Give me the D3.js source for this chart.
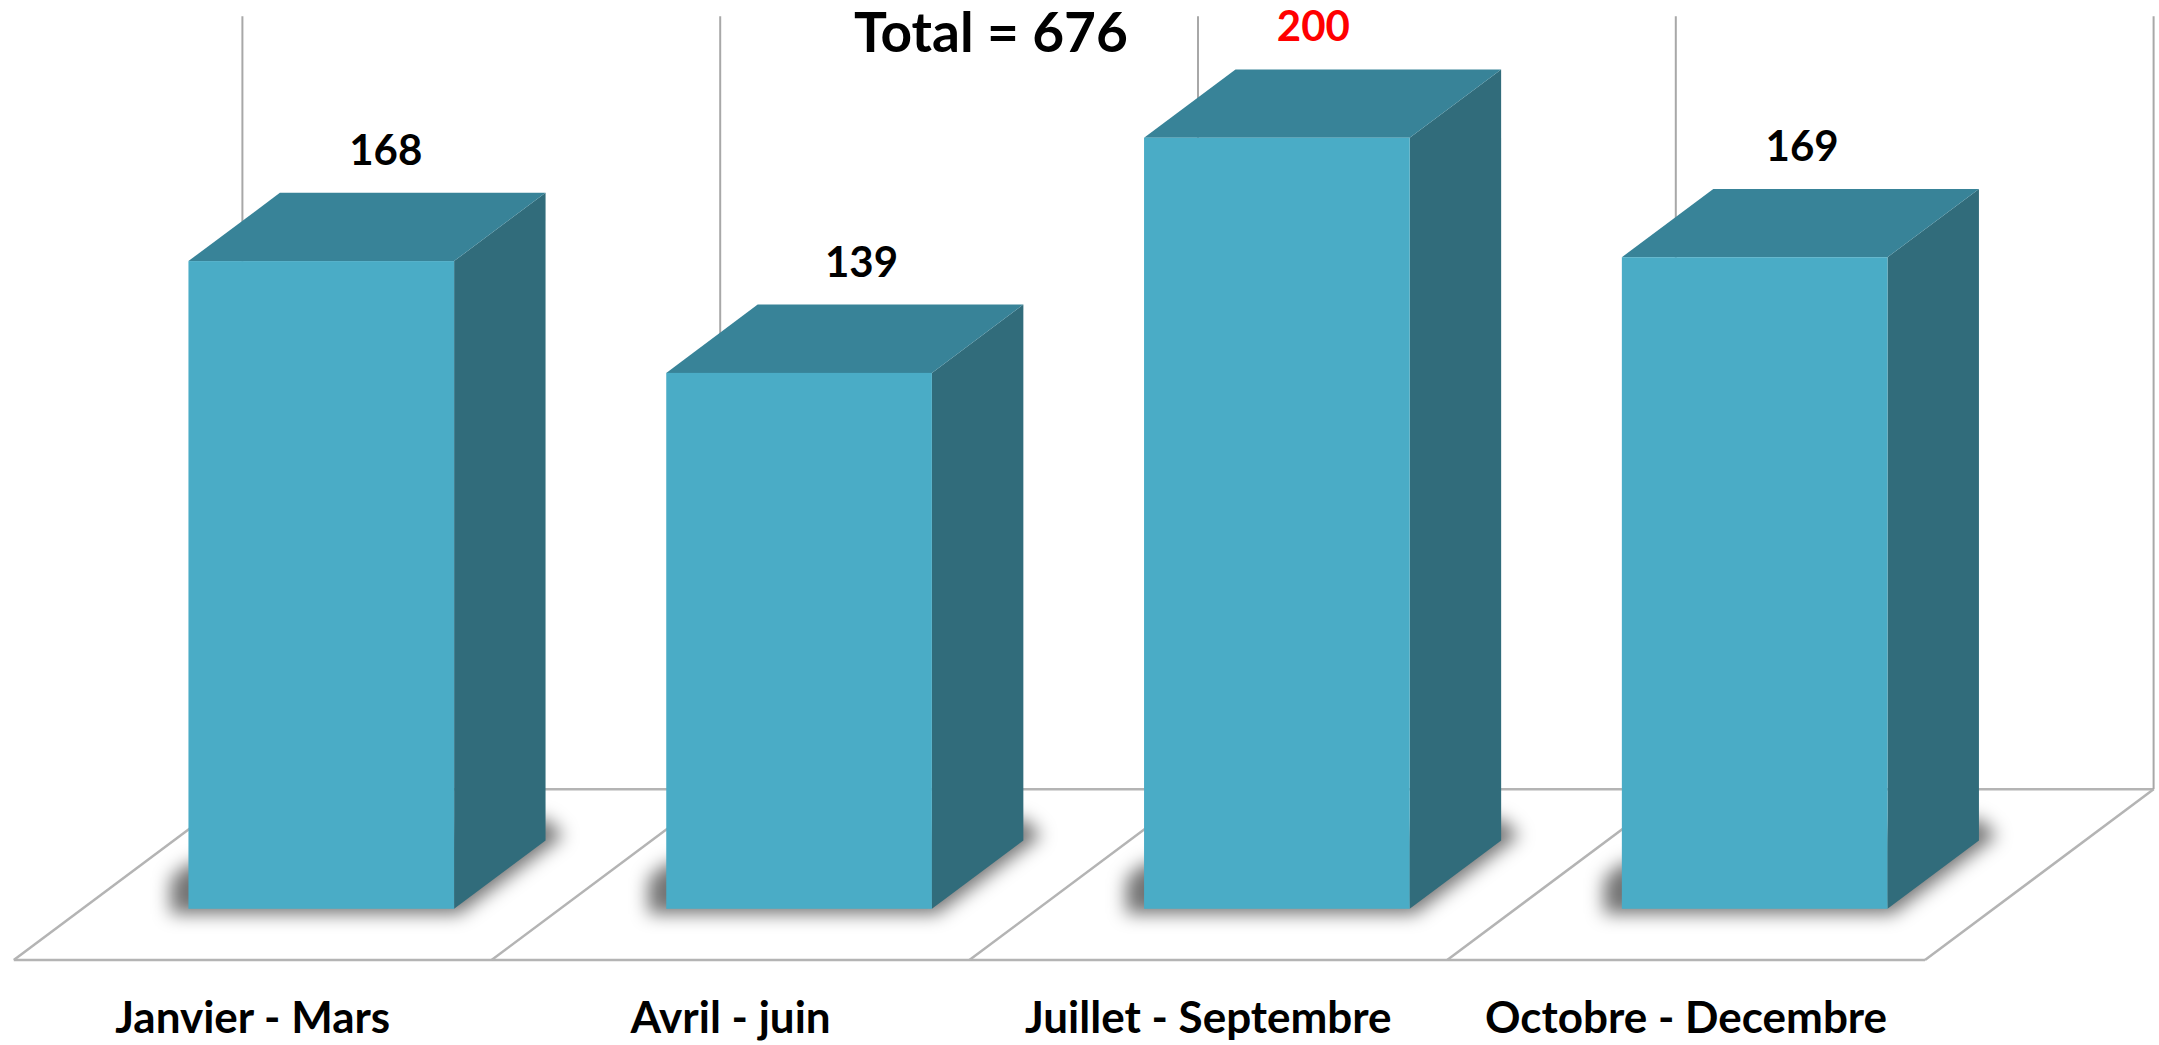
<!DOCTYPE html>
<html>
<head>
<meta charset="utf-8">
<script src="https://cdn.jsdelivr.net/npm/d3@7"></script>
<style>
  html, body { margin: 0; padding: 0; background: #fff; }
  svg { display: block; }
  text { font-family: Lato, 'Open Sans', sans-serif; font-weight: bold; }
</style>
</head>
<body>
<svg id="chart"></svg>
<script>
// data
const categories = ['Janvier - Mars', 'Avril - juin', 'Juillet - Septembre', 'Octobre - Decembre'];
const values = [168, 139, 200, 169];
const labelColors = ['#000000', '#000000', '#ff0000', '#000000'];
const totalLabel = 'Total = 676';
const axisMax = 200;

// labels were nudged by hand in the original
const labelNudge = [5, 3, -23, -12];

const width = 2159, height = 1045;
const svg = d3.select('#chart').attr('width', width).attr('height', height);

// 3d floor: front edge, and how far the back edge is shifted
const floorFront = 960, depthX = 228.6, depthY = 170.7;
const barFrontAt = 0.3, barBackAt = 0.7;
const left = 13.8, right = 1925;

const xFloor = d3.scaleBand().domain(categories).range([left, right]);
const xBar = d3.scaleBand().domain(categories)
  .range([left + barFrontAt * depthX, right + barFrontAt * depthX])
  .paddingInner(0.444).paddingOuter(0.222);

const y0 = floorFront - barFrontAt * depthY;
const y = d3.scaleLinear().domain([0, axisMax]).range([y0, 137.7]);

const bdx = (barBackAt - barFrontAt) * depthX;
const bdy = (barBackAt - barFrontAt) * depthY;

const defs = svg.append('defs');
defs.append('filter').attr('id', 'blur').attr('x', '-50%').attr('y', '-50%').attr('width', '200%').attr('height', '200%')
  .append('feGaussianBlur').attr('stdDeviation', 9);

/* ------- FLOOR & WALL -------*/
const grid = svg.append('g').attr('class', 'grid')
  .attr('fill', 'none').attr('stroke', '#b4b4b4').attr('stroke-width', 2.5);

const bounds = categories.map(c => xFloor(c)).concat([right]);
const floorBack = floorFront - depthY;
const wallTop = y(axisMax) - barBackAt * depthY - 2;

grid.append('line').attr('x1', left).attr('x2', right).attr('y1', floorFront).attr('y2', floorFront);
grid.append('line').attr('x1', left + depthX).attr('x2', right + depthX).attr('y1', floorBack).attr('y2', floorBack);
grid.selectAll('line.diag').data(bounds).enter().append('line')
  .attr('class', 'diag')
  .attr('x1', d => d).attr('y1', floorFront)
  .attr('x2', d => d + depthX).attr('y2', floorBack);
grid.selectAll('line.wall').data(bounds).enter().append('line')
  .attr('class', 'wall')
  .attr('stroke', '#a8a8a8').attr('stroke-width', 2)
  .attr('x1', d => d + depthX).attr('y1', floorBack)
  .attr('x2', d => d + depthX).attr('y2', wallTop);

/* ------- BARS -------*/
const bars = svg.append('g').attr('class', 'bars')
  .selectAll('g.bar').data(values).enter().append('g').attr('class', 'bar');

const xl = (d, i) => xBar(categories[i]);
const xr = (d, i) => xBar(categories[i]) + xBar.bandwidth();

// soft shadow round the foot of each bar
bars.append('path')
  .attr('fill', '#000')
  .attr('fill-opacity', 0.55)
  .attr('filter', 'url(#blur)')
  .attr('d', (d, i) => {
    const a = xl(d, i), b = xr(d, i);
    return 'M' + (a - 18) + ',' + (y0 + 5) +
      'L' + (b + 5) + ',' + (y0 + 5) +
      'L' + (b + bdx + 18) + ',' + (y0 - bdy - 5) +
      'L' + (b + bdx) + ',' + (y0 - bdy - 22) +
      'L' + a + ',' + (y0 - 45) +
      'L' + (a - 18) + ',' + (y0 - 30) + 'Z';
  });

// side
bars.append('path')
  .attr('fill', '#316c7b')
  .attr('d', (d, i) => {
    const b = xr(d, i);
    return 'M' + b + ',' + y(d) + 'L' + (b + bdx) + ',' + (y(d) - bdy) +
      'L' + (b + bdx) + ',' + (y0 - bdy) + 'L' + b + ',' + y0 + 'Z';
  });

// top
bars.append('path')
  .attr('fill', '#388398')
  .attr('d', (d, i) => {
    const a = xl(d, i), b = xr(d, i);
    return 'M' + a + ',' + y(d) + 'L' + (a + bdx) + ',' + (y(d) - bdy) +
      'L' + (b + bdx) + ',' + (y(d) - bdy) + 'L' + b + ',' + y(d) + 'Z';
  });

// front
bars.append('rect')
  .attr('fill', '#4aacc6')
  .attr('x', xl)
  .attr('y', d => y(d))
  .attr('width', xBar.bandwidth())
  .attr('height', d => y0 - y(d));

/* ------- TEXT LABELS -------*/
svg.append('g').attr('class', 'labelValue')
  .selectAll('text').data(values).enter().append('text')
  .attr('text-anchor', 'middle')
  .attr('font-size', 42)
  .attr('fill', (d, i) => labelColors[i])
  .attr('x', (d, i) => xl(d, i) + xBar.bandwidth() / 2 + 0.65 * bdx + labelNudge[i])
  .attr('y', d => y(d) - bdy - 28)
  .text(d => d);

svg.append('g').attr('class', 'labelName')
  .selectAll('text').data(categories).enter().append('text')
  .attr('text-anchor', 'middle')
  .attr('font-size', 44)
  .attr('x', d => xFloor(d) + xFloor.bandwidth() / 2)
  .attr('y', 1033)
  .text(d => d);

svg.append('text')
  .attr('text-anchor', 'middle')
  .attr('font-size', 55)
  .attr('x', 991)
  .attr('y', 52)
  .text(totalLabel);
</script>
</body>
</html>
